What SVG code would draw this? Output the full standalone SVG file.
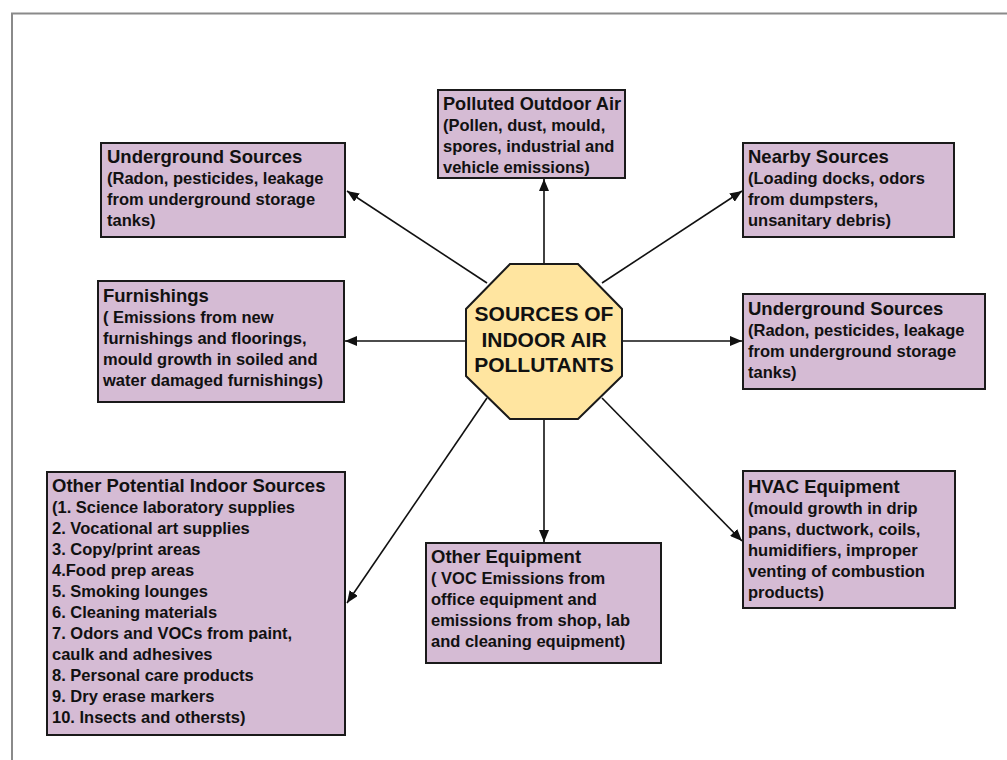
<svg xmlns="http://www.w3.org/2000/svg" width="1007" height="760" viewBox="0 0 1007 760">
<style>
.box{fill:#D5BBD4;stroke:#1a1a1a;stroke-width:2}
.t{font-family:"Liberation Sans",Arial,sans-serif;font-weight:bold;fill:#111}
.h{font-size:18.5px}
.b{font-size:16.5px}
.c{font-size:21px}
.con line{stroke:#111;stroke-width:1.6;marker-end:url(#ah)}
</style>
<defs>
<marker id="ah" viewBox="0 0 12 10" refX="12" refY="5" markerWidth="12" markerHeight="10" markerUnits="userSpaceOnUse" orient="auto">
<path d="M0,0 L12,5 L0,10 z" fill="#111"/>
</marker>
</defs>
<rect width="1007" height="760" fill="#fff"/>
<path d="M12,760 L12,13.5 L1007,13.5" fill="none" stroke="#8a8a8a" stroke-width="2"/>
<g class="con">
<line x1="544" y1="264" x2="544" y2="179"/>
<line x1="487" y1="283" x2="347" y2="191"/>
<line x1="602" y1="283" x2="742" y2="191"/>
<line x1="466" y1="341" x2="345" y2="341"/>
<line x1="622" y1="341" x2="742" y2="341"/>
<line x1="487" y1="398" x2="347" y2="603"/>
<line x1="544" y1="419" x2="544" y2="542"/>
<line x1="602" y1="398" x2="742" y2="541"/>
</g>
<g id="center">
<polygon points="510,264 578,264 622,309 622,376 578,419 510,419 466,376 466,309" fill="#FFE5A0" stroke="#1a1a1a" stroke-width="2"/>
<text class="t c" text-anchor="middle" x="544" y="321">SOURCES OF</text>
<text class="t c" text-anchor="middle" x="544" y="347">INDOOR AIR</text>
<text class="t c" text-anchor="middle" x="544" y="372">POLLUTANTS</text>
</g>
<g id="outdoor">
<rect class="box" x="438" y="90" width="187" height="88"/>
<text class="t h" x="443" y="110" textLength="178" lengthAdjust="spacingAndGlyphs">Polluted Outdoor Air</text>
<text class="t b" x="443" y="131">(Pollen, dust, mould,</text>
<text class="t b" x="443" y="152">spores, industrial and</text>
<text class="t b" x="443" y="173">vehicle emissions)</text>
</g>
<g id="underground1">
<rect class="box" x="101" y="143" width="244" height="94"/>
<text class="t h" x="107" y="163">Underground Sources</text>
<text class="t b" x="107" y="184">(Radon, pesticides, leakage</text>
<text class="t b" x="107" y="205">from underground storage</text>
<text class="t b" x="107" y="226">tanks)</text>
</g>
<g id="nearby">
<rect class="box" x="743" y="143" width="211" height="94"/>
<text class="t h" x="748" y="163">Nearby Sources</text>
<text class="t b" x="748" y="184">(Loading docks, odors</text>
<text class="t b" x="748" y="205">from dumpsters,</text>
<text class="t b" x="748" y="226">unsanitary debris)</text>
</g>
<g id="furnishings">
<rect class="box" x="98" y="281" width="246" height="121"/>
<text class="t h" x="103" y="302">Furnishings</text>
<text class="t b" x="103" y="323">( Emissions from new</text>
<text class="t b" x="103" y="344">furnishings and floorings,</text>
<text class="t b" x="103" y="365">mould growth in soiled and</text>
<text class="t b" x="103" y="386">water damaged furnishings)</text>
</g>
<g id="underground2">
<rect class="box" x="743" y="294" width="242" height="95"/>
<text class="t h" x="748" y="315">Underground Sources</text>
<text class="t b" x="748" y="336">(Radon, pesticides, leakage</text>
<text class="t b" x="748" y="357">from underground storage</text>
<text class="t b" x="748" y="378">tanks)</text>
</g>
<g id="indoor">
<rect class="box" x="47" y="472" width="298" height="263"/>
<text class="t h" x="52" y="492">Other Potential Indoor Sources</text>
<text class="t b" x="52" y="513">(1. Science laboratory supplies</text>
<text class="t b" x="52" y="534">2. Vocational art supplies</text>
<text class="t b" x="52" y="555">3. Copy/print areas</text>
<text class="t b" x="52" y="576">4.Food prep areas</text>
<text class="t b" x="52" y="597">5. Smoking lounges</text>
<text class="t b" x="52" y="618">6. Cleaning materials</text>
<text class="t b" x="52" y="639">7. Odors and VOCs from paint,</text>
<text class="t b" x="52" y="660">caulk and adhesives</text>
<text class="t b" x="52" y="681">8. Personal care products</text>
<text class="t b" x="52" y="702">9. Dry erase markers</text>
<text class="t b" x="52" y="723">10. Insects and othersts)</text>
</g>
<g id="equipment">
<rect class="box" x="426" y="543" width="235" height="120"/>
<text class="t h" x="431" y="563">Other Equipment</text>
<text class="t b" x="431" y="584">( VOC Emissions from</text>
<text class="t b" x="431" y="605">office equipment and</text>
<text class="t b" x="431" y="626">emissions from shop, lab</text>
<text class="t b" x="431" y="647">and cleaning equipment)</text>
</g>
<g id="hvac">
<rect class="box" x="743" y="471" width="212" height="137"/>
<text class="t h" x="748" y="493">HVAC Equipment</text>
<text class="t b" x="748" y="514">(mould growth in drip</text>
<text class="t b" x="748" y="535">pans, ductwork, coils,</text>
<text class="t b" x="748" y="556">humidifiers, improper</text>
<text class="t b" x="748" y="577">venting of combustion</text>
<text class="t b" x="748" y="598">products)</text>
</g>
</svg>
